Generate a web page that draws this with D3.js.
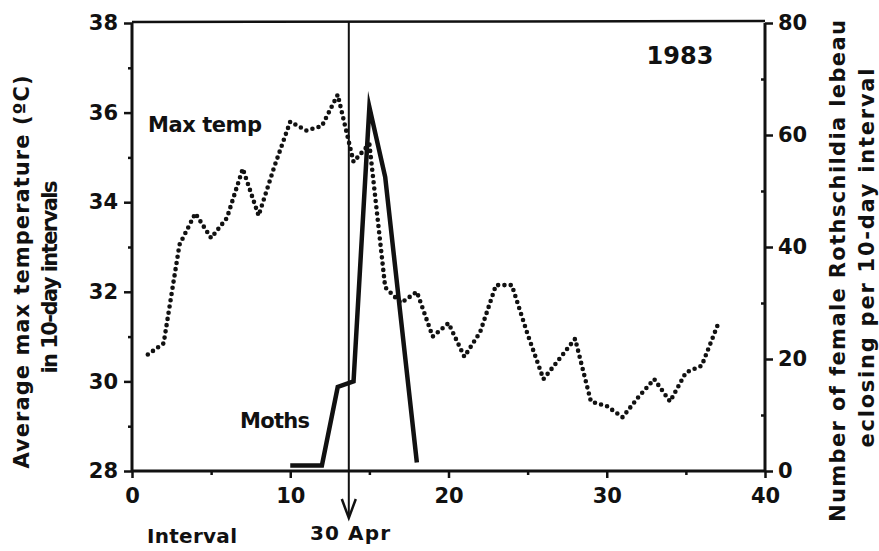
<!DOCTYPE html>
<html><head><meta charset="utf-8">
<script src="https://cdn.jsdelivr.net/npm/d3@7/dist/d3.min.js"></script>
<style>
body{margin:0;background:#fff}
text{font-family:"DejaVu Sans",sans-serif;font-weight:bold;fill:#111}
</style>
</head><body>
<svg id="chart" width="879" height="551"></svg>
<script>
// ---- data ----
const intervals = [1,2,3,4,5,6,7,8,9,10,11,12,13,14,15,16,17,18,19,20,21,22,23,24,25,26,27,28,29,30,31,32,33,34,35,36,37];
const maxTemp = [30.6,30.85,33.05,33.75,33.2,33.65,34.75,33.7,34.8,35.8,35.6,35.7,36.4,34.9,35.3,32.1,31.75,32.0,31.0,31.3,30.55,31.1,32.15,32.15,31.05,30.05,30.5,30.95,29.55,29.45,29.2,29.65,30.05,29.55,30.2,30.35,31.25];
const mothIntervals = [10,11,12,13,14,15,16,17,18];
const moths = [1,1,1,15,16,65,52.5,27,1.5];
const xTicks = [0,10,20,30,40];
const xMinor = [5,15,25,35];
const tempTicks = [28,30,32,34,36,38];
const tempMinor = [29,31,33,35,37];
const mothTicks = [0,20,40,60,80];
const mothMinor = [10,30,50,70];
const markerInterval = 13.7;
const markerLabel = "30 Apr";
const yearLabel = "1983";

// ---- scales ----
const svg = d3.select("#chart");
const x = d3.scaleLinear().domain([0,40]).range([132,765]);
const yT = d3.scaleLinear().domain([28,38]).range([471,23]);
const yM = d3.scaleLinear().domain([0,80]).range([471,23]);

function styleAxis(g){ g.select(".domain").remove(); g.selectAll("line").attr("stroke","#111").attr("stroke-width",2.5); g.selectAll("text").attr("font-size",21).attr("fill","#111"); }

// bottom axis
svg.append("g").attr("transform","translate(0,471)")
  .call(d3.axisBottom(x).tickValues(xTicks).tickSize(7).tickPadding(10).tickFormat(d3.format("d")))
  .call(styleAxis);
svg.append("g").attr("transform","translate(0,471)")
  .call(d3.axisBottom(x).tickValues(xMinor).tickSize(4).tickFormat(""))
  .call(styleAxis);
// left axis
svg.append("g").attr("transform","translate(132,0)")
  .call(d3.axisLeft(yT).tickValues(tempTicks).tickSize(8).tickPadding(6).tickFormat(d3.format("d")))
  .call(styleAxis);
svg.append("g").attr("transform","translate(132,0)")
  .call(d3.axisLeft(yT).tickValues(tempMinor).tickSize(4).tickFormat(""))
  .call(styleAxis);
// right axis
svg.append("g").attr("transform","translate(765,0)")
  .call(d3.axisRight(yM).tickValues(mothTicks).tickSize(8).tickPadding(5).tickFormat(d3.format("d")))
  .call(styleAxis);
svg.append("g").attr("transform","translate(765,0)")
  .call(d3.axisLeft(yM).tickValues(mothMinor).tickSize(4).tickFormat(""))
  .call(styleAxis);

// frame
const [x0,x1] = x.range();
svg.append("line").attr("x1",x0).attr("x2",x0).attr("y1",yT(38)).attr("y2",yT(28)).attr("stroke","#111").attr("stroke-width",3);
svg.append("line").attr("x1",x0).attr("x2",x1).attr("y1",yT(28)).attr("y2",yT(28)).attr("stroke","#111").attr("stroke-width",3);
svg.append("line").attr("x1",x1).attr("x2",x1).attr("y1",yM(80)).attr("y2",yM(0)).attr("stroke","#111").attr("stroke-width",3);
svg.append("line").attr("x1",x0).attr("x2",x1).attr("y1",yT(38)-1).attr("y2",yT(38)-2).attr("stroke","#111").attr("stroke-width",2.5);

// marker line with arrow
const mx = x(markerInterval);
svg.append("line").attr("x1",mx).attr("x2",mx).attr("y1",yT(38)-2).attr("y2",517).attr("stroke","#111").attr("stroke-width",2);
svg.append("path").attr("d",`M${mx-7},499 L${mx},518 L${mx+7},499`).attr("fill","none").attr("stroke","#111").attr("stroke-width",2.5);

// max temp dotted line
const tempLine = d3.line().x((d,i)=>x(intervals[i])).y(d=>yT(d));
svg.append("path").datum(maxTemp).attr("d",tempLine)
  .attr("fill","none").attr("stroke","#111").attr("stroke-width",4.6)
  .attr("stroke-linecap","round").attr("stroke-dasharray","0 6.3");

// moths solid line
const mothLine = d3.line().x((d,i)=>x(mothIntervals[i])).y(d=>yM(d));
svg.append("path").datum(moths).attr("d",mothLine)
  .attr("fill","none").attr("stroke","#111").attr("stroke-width",4.5)
  .attr("stroke-linejoin","miter").attr("stroke-miterlimit",10);

// text labels
function label(txt, xPos, yPos, size, len, anchor, rot){
  const t = svg.append("text").text(txt).attr("font-size",size).attr("text-anchor",anchor||"start");
  if(len) t.attr("textLength",len).attr("lengthAdjust","spacing");
  if(rot) t.attr("transform",`translate(${xPos},${yPos}) rotate(${rot})`);
  else t.attr("x",xPos).attr("y",yPos);
  return t;
}
label("Max temp",148,132,21,114);
label("Moths",240,428,21,70);
label(yearLabel,680,64,24,null,"middle");
label("Interval",147,543,20,90);
label(markerLabel,350,540,20,80,"middle");
label("Average max temperature (ºC)",29,272,21,393,"middle",-90);
label("in 10-day intervals",57,277,21,193,"middle",-90);
label("Number of female Rothschildia lebeau",845,271,21,502,"middle",-90);
label("eclosing per 10-day interval",874,258,21,379,"middle",-90);
</script>
</body></html>
